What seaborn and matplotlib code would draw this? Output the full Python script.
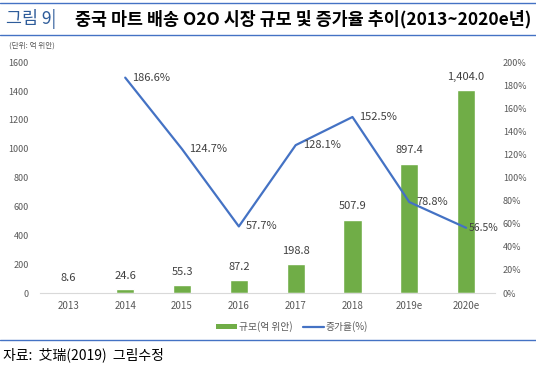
import matplotlib
matplotlib.use("Agg")
import matplotlib.pyplot as plt
import seaborn as sns
import pandas as pd
from matplotlib.lines import Line2D
from matplotlib.patches import Patch

years = ["2013", "2014", "2015", "2016", "2017", "2018", "2019e", "2020e"]
scale = [8.6, 24.6, 55.3, 87.2, 198.8, 507.9, 897.4, 1404.0]
growth = [None, 186.6, 124.7, 57.7, 128.1, 152.5, 78.8, 56.5]
left_ticks = [0, 200, 400, 600, 800, 1000, 1200, 1400, 1600]
right_ticks = [0, 20, 40, 60, 80, 100, 120, 140, 160, 180, 200]

sns.set_theme(style="white")
plt.rcParams['font.family'] = ['Noto Sans CJK KR', 'DejaVu Sans']

df = pd.DataFrame({"year": years, "scale": scale, "growth": growth})

fig = plt.figure(figsize=(5.36, 3.70), dpi=100)
ax = fig.add_axes([0.0746, 0.208, 0.848, 0.624])

green = "#70AD47"
blue = "#4472C4"
gray = "#595959"

sns.barplot(data=df, x="year", y="scale", color=green, width=0.32, ax=ax, saturation=1)
ax.set_ylim(0, 1600)
ax.set_yticks(left_ticks)
ax.set_yticklabels([str(t) for t in left_ticks], fontsize=6.5, color=gray)
ax.tick_params(axis="x", labelsize=7, colors=gray, length=0, pad=6)
ax.tick_params(axis="y", length=0, pad=8)
ax.set_xlabel("")
ax.set_ylabel("")
for s in ["top", "right", "left"]:
    ax.spines[s].set_visible(False)
ax.spines["bottom"].set_color("#D9D9D9")
ax.spines["bottom"].set_linewidth(0.8)
ax.set_xlim(-0.5, len(years) - 0.5)

for i, v in enumerate(scale):
    ax.annotate(f"{v:,.1f}", (i, v), xytext=(0, 6), textcoords="offset points",
                ha="center", va="bottom", fontsize=8, color="#404040")

ax2 = ax.twinx()
gx = [i for i, g in enumerate(growth) if g is not None]
gy = [g for g in growth if g is not None]
sns.lineplot(x=gx, y=gy, color=blue, linewidth=1.6, ax=ax2)
ax2.set_ylim(0, 200)
ax2.set_yticks(right_ticks)
ax2.set_yticklabels([f"{t}%" for t in right_ticks], fontsize=6.5, color=gray)
ax2.tick_params(axis="y", length=0, pad=6)
for s in ["top", "right", "left", "bottom"]:
    ax2.spines[s].set_visible(False)
ax2.set_ylabel("")
for j, (x, y) in enumerate(zip(gx, gy)):
    off = 2 if j == len(gx) - 1 else 5
    ax2.annotate(f"{y:.1f}%", (x, y), xytext=(off, 0), textcoords="offset points",
                 ha="left", va="center", fontsize=7.5 if j == len(gx) - 1 else 8,
                 color="#404040")

# legend
handles = [Patch(facecolor=green, edgecolor="none"),
           Line2D([0], [0], color=blue, lw=1.6)]
fig.legend(handles, ["규모(억 위안)", "증가율(%)"], loc="center",
           bbox_to_anchor=(0.545, 0.117), ncol=2, frameon=False, fontsize=7,
           handlelength=2.2, handleheight=0.5, columnspacing=1.0, handletextpad=0.2,
           labelcolor=gray)

# title and frame lines
fig.add_artist(Line2D([0.0, 1.0], [0.992, 0.992], color=blue, lw=1.0))
fig.add_artist(Line2D([0.0, 1.0], [0.905, 0.905], color=blue, lw=1.0))
fig.add_artist(Line2D([0.0, 1.0], [0.082, 0.082], color=blue, lw=1.0))
fig.text(0.012, 0.948, "그림 9|", fontsize=12.5, color="#2E5C9A", va="center", ha="left")
fig.text(0.14, 0.948, "중국 마트 배송 O2O 시장 규모 및 증가율 추이(2013~2020e년)",
         fontsize=12.5, color="black", fontweight="bold", va="center", ha="left")
fig.text(0.017, 0.878, "(단위: 억 위안)", fontsize=5.5, color=gray, va="center", ha="left")
fig.text(0.005, 0.04, "자료:  艾瑞(2019)  그림수정", fontsize=10,
         family=['Noto Sans CJK KR', 'Noto Sans CJK SC', 'DejaVu Sans'],
         color="black", va="center", ha="left")

fig.savefig("out.png", dpi=100)
